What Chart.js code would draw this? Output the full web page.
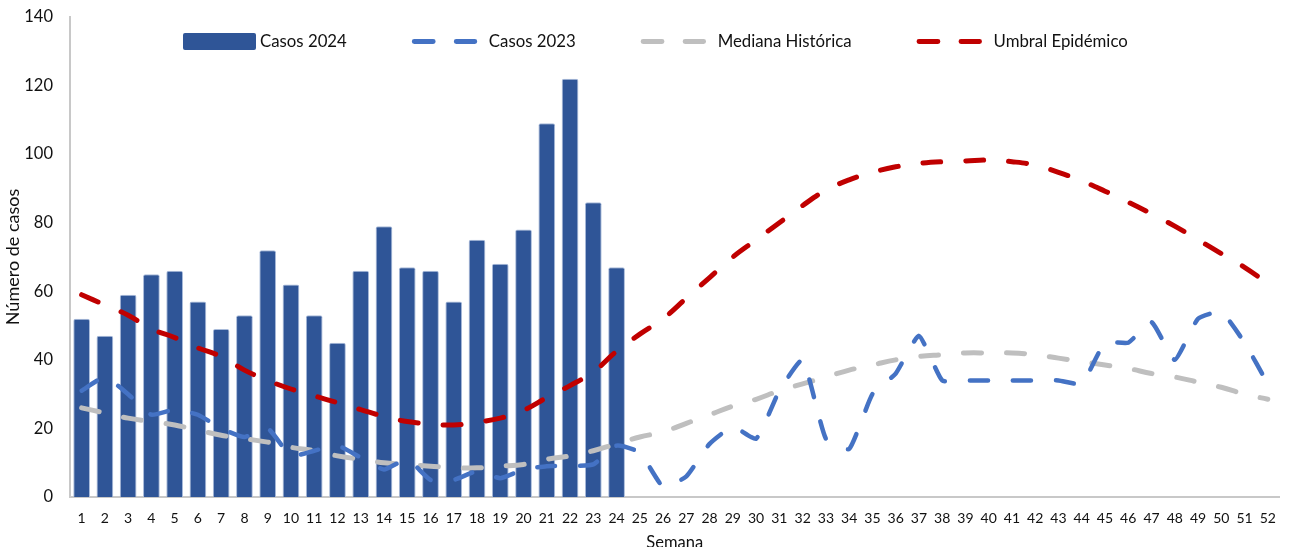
<!DOCTYPE html>
<html>
<head>
<meta charset="utf-8">
<script src="https://cdn.jsdelivr.net/npm/chart.js@4.4.1/dist/chart.umd.min.js"></script>
<style>
  html, body { margin: 0; padding: 0; background: #fff; }
  #wrap { width: 1289px; height: 547px; position: relative; }
</style>
</head>
<body>
<div id="wrap"><canvas id="c" width="1289" height="547"></canvas></div>
<script>
"use strict";

var weeks = [];
for (var w = 1; w <= 52; w++) weeks.push(String(w));

var casos2024 = [52, 47, 59, 65, 66, 57, 49, 53, 72, 62, 53, 45, 66, 79, 67, 66, 57, 75, 68, 78, 109, 122, 86, 67];

var casos2023 = [31, 35, 30, 24, 25.5, 24, 20, 17.5, 20, 12, 13.5, 15, 11.5, 8, 11, 5, 5, 7.5, 5.5, 8, 9, 9, 9.5, 15,
  13, 3, 6, 15.5, 20.5, 17, 31, 40, 17, 14, 30, 36, 47, 34, 34, 34, 34, 34, 34, 33, 45, 45, 51, 40, 52, 54, 45, 33];

var mediana = [26, 24.5, 23, 22, 21, 19.5, 18, 17, 16, 14.5, 13.5, 12, 11, 10, 9.5, 9, 8.5, 8.5, 9, 9.5, 11, 12, 13.5, 15.5,
  17.5, 19, 21.5, 24, 26.5, 28.5, 31, 33, 35, 37, 38.5, 40, 41, 41.5, 42, 42, 42, 41.5, 40.5, 39.5, 38.5, 37.5, 36, 35, 33.5, 32, 30, 28.5];

var umbral = [59, 56, 53, 49, 46.5, 43.5, 41, 37, 34, 31.5, 29.5, 27.5, 25.5, 23.5, 22, 21.3, 21, 21.8, 23, 25.3, 29, 32.5, 36.5, 42.5,
  47.5, 52, 58, 64, 70, 75, 80, 85, 89.5, 92.5, 94.7, 96.3, 97.3, 97.8, 98, 98.3, 97.8, 96.8, 94.7, 92.2, 89.2, 86, 82.6, 79, 75, 71, 67, 62.3];

var yTicks = [0, 20, 40, 60, 80, 100, 120, 140];

var FONT = 'Lato, "Open Sans", sans-serif';
var LINE_DASH = [18, 25];
var AXIS_GREY = '#C8C8C8';

var legendPlugin = {
  id: 'sketchLegend',
  afterDraw: function(chart) {
    var ctx = chart.ctx;
    var y = 41.5;
    var x = 183;
    ctx.save();
    ctx.font = '16.8px ' + FONT;
    ctx.textBaseline = 'middle';
    chart.data.datasets.forEach(function(ds) {
      if (ds.type === 'bar') {
        ctx.fillStyle = ds.backgroundColor;
        ctx.beginPath();
        ctx.roundRect(x, y - 8.5, 73, 17, 2);
        ctx.fill();
      } else {
        ctx.strokeStyle = ds.borderColor;
        ctx.lineWidth = 4.8;
        ctx.lineCap = 'round';
        ctx.setLineDash([19, 23]);
        ctx.beginPath();
        ctx.moveTo(x + 2.4, y);
        ctx.lineTo(x + 63, y);
        ctx.stroke();
        ctx.setLineDash([]);
      }
      ctx.fillStyle = '#111';
      ctx.fillText(ds.label, x + 77, y);
      x += 77 + ctx.measureText(ds.label).width + 65;
    });
    ctx.restore();
  }
};

var lineStyle = function(label, data, color, width, order, tension) {
  return {
    type: 'line',
    label: label,
    data: data,
    borderColor: color,
    backgroundColor: color,
    borderWidth: width,
    borderDash: LINE_DASH,
    borderCapStyle: 'round',
    borderJoinStyle: 'round',
    pointRadius: 0,
    tension: tension,
    fill: false,
    order: order
  };
};

new Chart(document.getElementById('c'), {
  type: 'bar',
  data: {
    labels: weeks,
    datasets: [
      {
        type: 'bar',
        label: 'Casos 2024',
        data: casos2024,
        backgroundColor: '#2F5597',
        borderColor: '#A9BBDA',
        borderWidth: { left: 1, right: 1, top: 1, bottom: 0 },
        borderRadius: 2,
        borderSkipped: 'bottom',
        barPercentage: 0.72,
        categoryPercentage: 1,
        order: 3
      },
      lineStyle('Casos 2023', casos2023, '#4472C4', 4.5, 1, 0.15),
      lineStyle('Mediana Histórica', mediana, '#BFBFBF', 5, 2, 0.4),
      lineStyle('Umbral Epidémico', umbral, '#C00000', 5, 0, 0.4)
    ]
  },
  plugins: [legendPlugin],
  options: {
    responsive: false,
    animation: false,
    devicePixelRatio: 1,
    layout: { padding: { top: 17, right: 9, bottom: 0, left: 0 } },
    plugins: {
      legend: { display: false },
      tooltip: { enabled: false }
    },
    scales: {
      x: {
        offset: true,
        grid: { display: false, drawTicks: false },
        border: { display: true, color: AXIS_GREY, width: 2 },
        ticks: { color: '#111', font: { family: FONT, size: 14 }, padding: 13, maxRotation: 0, autoSkip: false },
        title: { display: true, text: 'Semana', color: '#111', font: { family: FONT, size: 16.5 }, padding: { top: 0, bottom: -6 } },
        afterFit: function(scale) { scale.height = 50; }
      },
      y: {
        min: 0,
        max: 140,
        afterBuildTicks: function(scale) {
          scale.ticks = yTicks.map(function(v) { return { value: v }; });
        },
        grid: { display: false, drawTicks: false },
        border: { display: true, color: AXIS_GREY, width: 2 },
        ticks: { color: '#111', font: { family: FONT, size: 16.5 }, padding: 17 },
        title: { display: true, text: 'Número de casos', color: '#111', font: { family: FONT, size: 18 }, padding: { top: 2.5, bottom: 0 } },
        afterFit: function(scale) {
          scale.width = 70;
          scale.paddingTop = 0;
          scale.paddingBottom = 0;
        }
      }
    }
  }
});
</script>
</body>
</html>
